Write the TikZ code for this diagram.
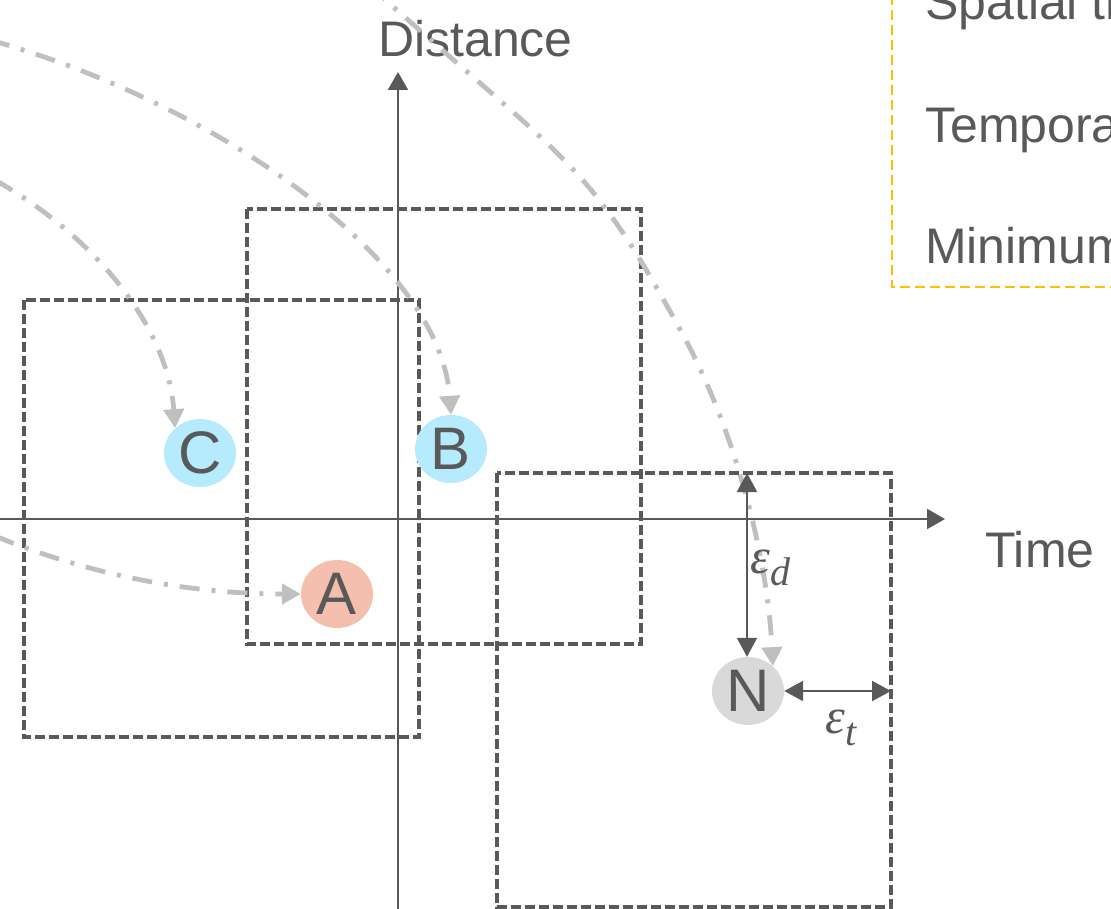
\documentclass[tikz,border=0pt]{standalone}
\usepackage{fontspec}
\setmainfont{Liberation Sans}
\newfontfamily\epsfont{Liberation Serif}
\usetikzlibrary{arrows.meta,shapes.geometric}
\definecolor{dk}{HTML}{595959}
\definecolor{lg}{HTML}{BFBFBF}
\definecolor{bl}{HTML}{B6EBFE}
\definecolor{sa}{HTML}{F4BFAE}
\definecolor{ng}{HTML}{D9D9D9}
\definecolor{yl}{HTML}{FFC000}
\newcommand{\subsym}[2]{{\epsfont\itshape\fontsize{50}{50}\selectfont #1\kern1pt\raisebox{-12pt}{\fontsize{40}{40}\selectfont #2}}}
\begin{document}
\begin{tikzpicture}[x=1pt,y=-1pt,
  box/.style={draw=dk, line width=3.2pt, dash pattern=on 10pt off 4pt},
  legendbox/.style={draw=yl, line width=2.8pt, dash pattern=on 10pt off 5pt},
  axisline/.style={draw=dk, line width=2pt, -{Triangle[width=20pt,length=18pt]}},
  traj/.style={draw=lg, line width=4.8pt, dash pattern=on 20pt off 12pt on 4pt off 12pt, -{Triangle[width=20pt,length=19pt]}},
  dimarrow/.style={draw=dk, line width=2pt, {Triangle[width=20pt,length=19pt]}-{Triangle[width=20pt,length=19pt]}},
  pt/.style={ellipse, minimum width=72pt, minimum height=68pt, inner sep=0pt, text=dk, font=\fontsize{60}{60}\selectfont},
  lbl/.style={text=dk, inner sep=0pt, anchor=base west, font=\fontsize{50}{50}\selectfont},
  mlbl/.style={text=dk, inner sep=0pt, anchor=base west}
]
\useasboundingbox (0,0) rectangle (1111,909);
\clip (0,0) rectangle (1111,909);

% dashed windows
\draw[box] (24,300) rectangle (419,737);
\draw[box] (247,209) rectangle (641,644);
\draw[box] (497,473) rectangle (891,907);

% legend box
\draw[legendbox] (892,-20) rectangle (1140,287);
\node[lbl] (l1) at (925,20) {Spatial threshold};
\node[lbl] (l2) at (925,143) {Temporal threshold};
\node[lbl] (l3) at (925,264) {Minimum points};

% axes
\coordinate (xs) at (-5,519);
\coordinate (xe) at (945,519);
\coordinate (ys) at (398,915);
\coordinate (ye) at (398,72);
\draw[axisline] (xs) -- (xe);
\draw[axisline] (ys) -- (ye);
\node[lbl] (dist) at (378,57) {Distance};
\node[lbl] (time) at (985,567) {Time};

% points
\node[pt, fill=bl] (C) at (200,453) {C};
\node[pt, fill=bl] (B) at (451,449) {B};
\node[pt, fill=sa] (A) at (337,594) {A};
\node[pt, fill=ng] (N) at (748,691) {N};

% trajectories
\draw[traj] (-5,536) .. controls (90,575) and (190,594) .. (A.west);
\draw[traj] (-5,180) .. controls (100,240) and (168,330) .. (C.135);
\draw[traj] (-10,40) .. controls (215,103) and (440,260) .. (B.north);
\draw[traj] (370,-14) .. controls (570,166) and (586,157) .. (682,333)
            .. controls (735,430) and (767.5,556) .. (N.45);

% epsilon dimensions
\coordinate (edtop) at (747,473);
\coordinate (etr) at (891,691);
\draw[dimarrow] (edtop) -- (edtop |- N.north);
\draw[dimarrow] (N.east) -- (etr);
\node[mlbl] (ed) at (750,573) {\subsym{ε}{d}};
\node[mlbl] (et) at (825,733) {\subsym{ε}{t}};
\end{tikzpicture}
\end{document}
